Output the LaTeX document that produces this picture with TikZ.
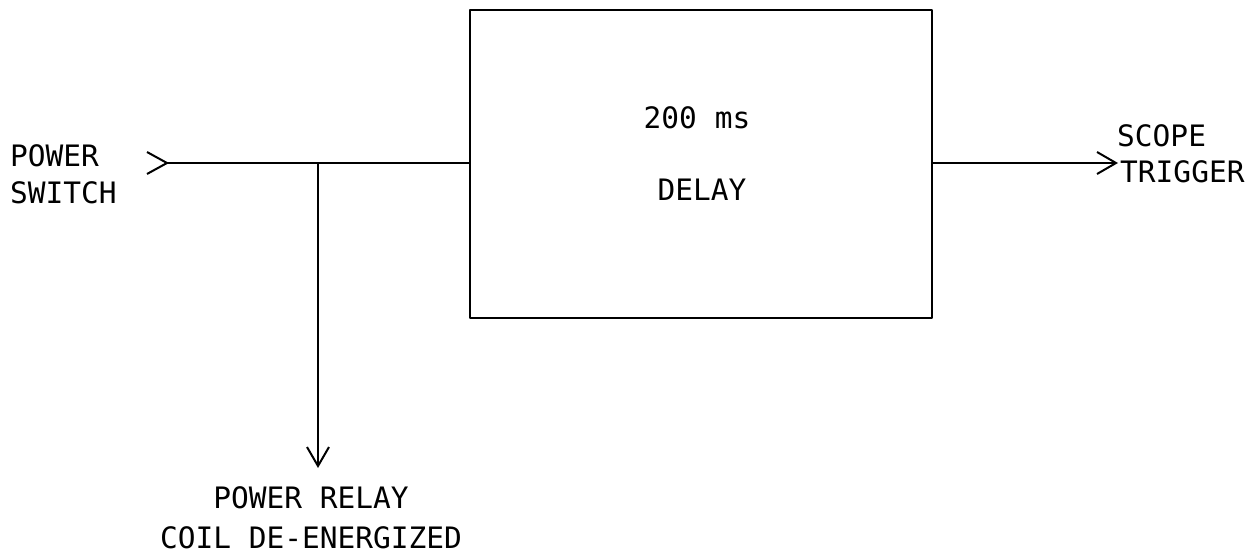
\documentclass[tikz,border=0pt]{standalone}
\usepackage{fontspec}
\newfontfamily\plotfont{DejaVu Sans Mono}
\usetikzlibrary{arrows.meta,positioning}

\tikzset{
  plotline/.style={line width=2pt, line join=round},
  barb/.style={-{Straight Barb[length=19pt,width=22pt,line width=2pt]}},
  lbl/.style={font=\plotfont\fontsize{29.5}{36}\selectfont, inner sep=0pt, align=left},
}

\begin{document}
\begin{tikzpicture}[x=1pt,y=-1pt]
	\useasboundingbox (0,0) rectangle (1257,553);
	
	% delay block
	\node[draw, plotline, minimum width=462pt, minimum height=308pt, inner sep=0pt]
	   (delay) at (701,164) {};
	\node[lbl] (time) at (697,118) {200 ms};
	\node[lbl] (dname) at (702,190) {DELAY};
	
	\coordinate (in) at (167,163);
	\coordinate (split) at (318,163);
	\coordinate (relay) at (318,468);
	\coordinate (trig) at (1118,163);
	
	% input marker and lines
	\draw[plotline] (in) ++(-20,-11) -- (in) -- ++(-20,11);
	\draw[plotline] (in) -- (in -| delay.west);
	\draw[plotline, barb] (split) -- (relay);
	\draw[plotline, barb] (trig -| delay.east) -- (trig);
	
	% labels
	\node[lbl, anchor=base west] (pswitch) at (10,204) {POWER\\[1pt]SWITCH};
	\node[lbl, anchor=base west] (scope) at (1117,183) {SCOPE\\[0pt]\hspace*{3pt}TRIGGER};
	\node[lbl, anchor=base, align=center] (prelay) at (311,548)
	   {POWER RELAY\\[4pt]COIL DE-ENERGIZED};
\end{tikzpicture}
\end{document}
